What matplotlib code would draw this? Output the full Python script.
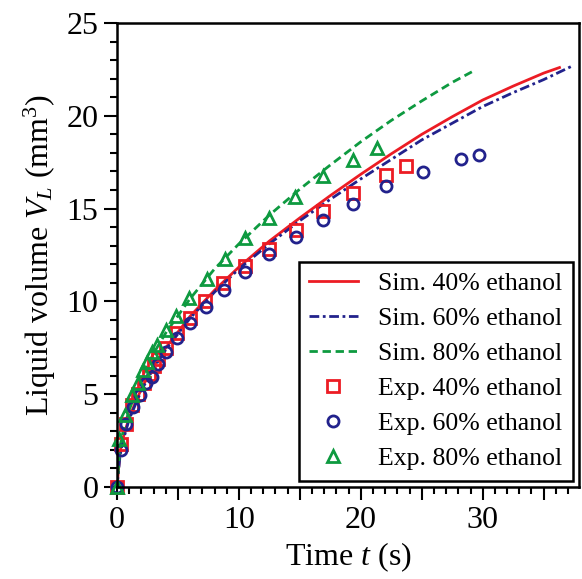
import matplotlib
matplotlib.use("Agg")
import matplotlib.pyplot as plt
from matplotlib.ticker import MultipleLocator, FuncFormatter

# simulation curves
t_sim40 = [0, 0.25, 0.5, 1, 2, 3, 4, 6, 8, 10, 12.5, 15, 17.5, 20, 22.5, 25, 27.5, 30, 32.5, 35, 36.3]
v_sim40 = [0, 1.9, 2.65, 3.75, 5.3, 6.5, 7.5, 9.2, 10.6, 11.85, 13.25, 14.5, 15.7, 16.85, 17.95,
           19.0, 19.95, 20.85, 21.6, 22.3, 22.6]
t_sim60 = [0, 0.25, 0.5, 1, 2, 3, 4, 6, 8, 10, 12.5, 15, 17.5, 20, 22.5, 25, 27.5, 30, 32.5, 35, 37.4]
v_sim60 = [0, 1.7, 2.5, 3.65, 5.2, 6.4, 7.4, 9.1, 10.5, 11.75, 13.1, 14.35, 15.5, 16.6, 17.65,
           18.7, 19.6, 20.5, 21.25, 21.95, 22.7]
t_sim80 = [0, 0.25, 0.5, 1, 2, 3, 4, 6, 8, 10, 12.5, 15, 17.5, 20, 22.5, 25, 27.5, 29.2]
v_sim80 = [0, 2.2, 3.0, 4.15, 5.85, 7.2, 8.3, 10.15, 11.75, 13.1, 14.65, 16.05, 17.35, 18.6,
           19.75, 20.8, 21.8, 22.4]

# experiments
t_exp40 = [0, 0.3, 0.7, 1.2, 1.7, 2.2, 2.6, 3.0, 3.4, 4.0, 4.9, 6.0, 7.2, 8.7, 10.5, 12.5,
           14.7, 16.9, 19.4, 22.1, 23.7]
v_exp40 = [0, 2.3, 3.4, 4.4, 5.0, 5.6, 6.1, 6.5, 6.9, 7.5, 8.3, 9.1, 10.0, 11.0, 11.9, 12.85,
           13.85, 14.85, 15.85, 16.8, 17.3]
t_exp60 = [0, 0.3, 0.7, 1.3, 1.9, 2.4, 2.85, 3.4, 4.0, 4.95, 6.0, 7.3, 8.8, 10.5, 12.5, 14.7,
           16.9, 19.4, 22.1, 25.1, 28.2, 29.7]
v_exp60 = [0, 2.0, 3.4, 4.3, 4.95, 5.6, 5.95, 6.65, 7.3, 8.05, 8.85, 9.7, 10.6, 11.6, 12.55,
           13.45, 14.4, 15.25, 16.2, 16.95, 17.65, 17.9]
t_exp80 = [0, 0.2, 0.65, 1.2, 1.75, 2.15, 2.5, 2.85, 3.25, 4.0, 4.85, 5.9, 7.35, 8.85, 10.5,
           12.5, 14.6, 16.9, 19.4, 21.3]
v_exp80 = [0, 2.6, 3.9, 4.95, 5.6, 6.3, 6.75, 7.3, 7.65, 8.45, 9.2, 10.2, 11.2, 12.3, 13.4,
           14.5, 15.65, 16.75, 17.6, 18.25]

red = "#ec1c24"
blue = "#22228c"
green = "#0e9a40"

plt.rcParams["font.family"] = ["Liberation Serif", "DejaVu Serif"]
plt.rcParams["mathtext.fontset"] = "custom"
plt.rcParams["mathtext.rm"] = "Liberation Serif"
plt.rcParams["mathtext.it"] = "Liberation Serif:italic"

fig = plt.figure(figsize=(5.82, 5.79), dpi=100)
ax = fig.add_axes([117 / 582, 1 - 487 / 579, 462 / 582, 464 / 579])

ax.plot(t_sim40, v_sim40, color=red, lw=2.0, label="Sim. 40% ethanol")
ax.plot(t_sim60, v_sim60, color=blue, lw=2.0, dashes=(3.5, 1.3, 1, 1.3), label="Sim. 60% ethanol")
ax.plot(t_sim80, v_sim80, color=green, lw=2.0, dashes=(3, 1.7), label="Sim. 80% ethanol")

ax.plot(t_exp40, v_exp40, ls="none", marker="s", mfc="none", mec=red, mew=2.0, ms=8,
        clip_on=False, label="Exp. 40% ethanol")
ax.plot(t_exp60, v_exp60, ls="none", marker="o", mfc="none", mec=blue, mew=2.0, ms=8,
        clip_on=False, label="Exp. 60% ethanol")
ax.plot(t_exp80, v_exp80, ls="none", marker="^", mfc="none", mec=green, mew=2.0, ms=9,
        clip_on=False, label="Exp. 80% ethanol")

ax.set_xlim(0, 37.9)
ax.set_ylim(0, 25)
ax.xaxis.set_major_locator(MultipleLocator(5))
ax.xaxis.set_minor_locator(MultipleLocator(1))
ax.xaxis.set_major_formatter(FuncFormatter(lambda v, p: f"{v:.0f}" if round(v) % 10 == 0 else ""))
ax.yaxis.set_major_locator(MultipleLocator(5))
ax.yaxis.set_minor_locator(MultipleLocator(1))

for s in ax.spines.values():
    s.set_linewidth(1.8)
ax.tick_params(which="major", direction="out", length=9.5, width=1.5, labelsize=23, pad=4)
ax.tick_params(which="minor", direction="out", length=5, width=1.5)
ax.tick_params(top=False, right=False, which="both")

ax.set_xlabel("Time $t$ (s)", fontsize=23, labelpad=4)
ax.set_ylabel("Liquid volume $V_L$ (mm$^3$)", fontsize=23, labelpad=6)

leg = ax.legend(loc="lower right", fontsize=18.5, frameon=True, fancybox=False,
                edgecolor="black", borderaxespad=0.25, handlelength=1.9,
                labelspacing=0.47, borderpad=0.4, handletextpad=0.8)
leg.get_frame().set_linewidth(1.8)
leg.get_frame().set_alpha(None)
leg.get_frame().set_facecolor("white")

fig.savefig("out.png", dpi=100)
